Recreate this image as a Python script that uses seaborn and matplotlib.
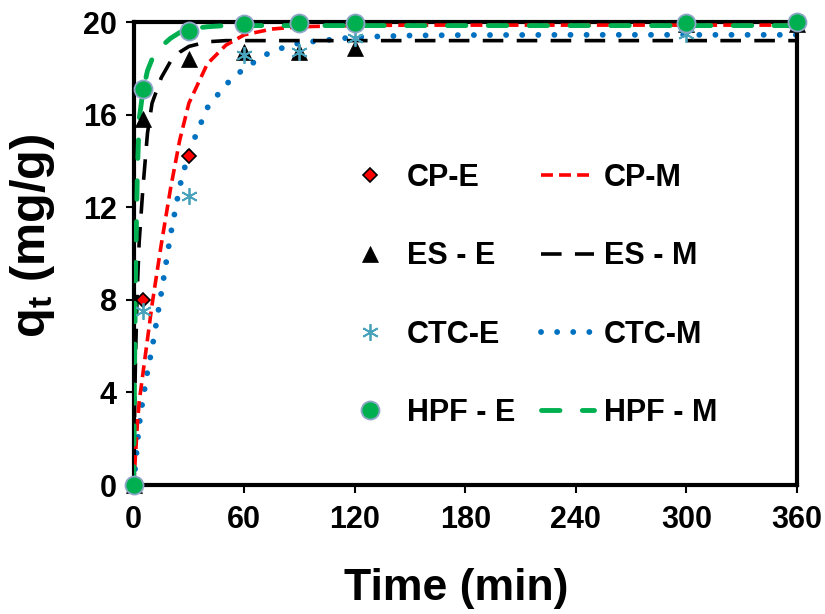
import matplotlib
matplotlib.use("Agg")
import matplotlib.pyplot as plt
import seaborn as sns
import numpy as np

t_exp = [0, 5, 30, 60, 90, 120, 300, 360]
cp_e = [0, 8.0, 14.2, 19.9, 19.9, 19.9, 19.9, 19.9]
es_e = [0, 15.8, 18.4, 18.7, 18.7, 18.9, 19.9, 19.9]
ctc_e = [0, 7.5, 12.5, 18.6, 18.7, 19.3, 19.5, 20.0]
hpf_e = [0, 17.1, 19.6, 19.9, 19.95, 19.95, 19.96, 20.0]

# ---- model curves ----
t_mod = [0, 0.5, 1, 2, 3, 5, 7.5, 10, 15, 20, 25, 30, 40, 50, 60, 75, 90, 120, 150, 180, 240, 300, 360]
cp_m = [0, 0.65, 1.3, 2.6, 3.6, 4.8, 6.3, 7.8, 10.4, 12.8, 14.9, 16.5, 18.2, 19.0, 19.45, 19.7, 19.8, 19.85,
        19.87, 19.87, 19.87, 19.87, 19.87]
es_m = [0, 3.0, 5.5, 8.5, 10.5, 12.8, 15.2, 16.5, 17.6, 18.3, 18.7, 18.95, 19.15, 19.2, 19.2, 19.2, 19.2, 19.2,
        19.2, 19.2, 19.2, 19.2, 19.2]
ctc_m = [0, 0.45, 0.9, 1.8, 2.6, 3.7, 4.9, 5.9, 8.3, 10.8, 12.9, 14.4, 16.3, 17.3, 18.0, 18.75, 19.1, 19.35,
         19.42, 19.44, 19.45, 19.45, 19.45]
hpf_m = [0, 5.0, 9.0, 13.5, 15.8, 17.0, 17.9, 18.4, 18.95, 19.3, 19.55, 19.7, 19.8, 19.85, 19.85, 19.85, 19.85,
         19.85, 19.85, 19.85, 19.85, 19.85, 19.85]

x_ticks = [0, 60, 120, 180, 240, 300, 360]
y_ticks = [0, 4, 8, 12, 16, 20]

sns.set_style("white")
plt.rcParams['font.family'] = ['Liberation Sans', 'DejaVu Sans']
plt.rcParams['font.weight'] = 'bold'
plt.rcParams['text.color'] = 'black'
plt.rcParams['axes.labelcolor'] = 'black'
plt.rcParams['xtick.color'] = 'black'
plt.rcParams['ytick.color'] = 'black'
plt.rcParams['mathtext.fontset'] = 'custom'
plt.rcParams['mathtext.rm'] = 'Liberation Sans:bold'
plt.rcParams['mathtext.it'] = 'Liberation Sans:bold'
plt.rcParams['mathtext.bf'] = 'Liberation Sans:bold'

fig = plt.figure(figsize=(8.25, 6.14), dpi=100)
ax = fig.add_axes([0.162, 0.21, 0.804, 0.754])

RED = '#FF0000'
BLUE = '#0070C0'
GREEN = '#00B050'
TEAL = '#4AA3BD'

# model lines
sns.lineplot(x=t_mod, y=ctc_m, ax=ax, color=BLUE, linewidth=4.2,
             linestyle=(0, (0.01, 2.75)), dash_capstyle='round', label='CTC-M', zorder=2)
sns.lineplot(x=t_mod, y=es_m, ax=ax, color='black', linewidth=2.6,
             linestyle=(0, (5.7, 3.7)), label='ES - M', zorder=2)
sns.lineplot(x=t_mod, y=cp_m, ax=ax, color=RED, linewidth=2.6,
             linestyle=(0, (3.3, 1.7)), label='CP-M', zorder=3)
sns.lineplot(x=t_mod, y=hpf_m, ax=ax, color=GREEN, linewidth=3.5,
             linestyle=(0, (3.8, 4.6)), dash_capstyle='round', label='HPF - M', zorder=3)

# experimental markers
sns.lineplot(x=t_exp, y=cp_e, ax=ax, color=RED, linestyle='', marker='D', markersize=7,
             markeredgecolor='black', markeredgewidth=1.2, label='CP-E', zorder=4, clip_on=False)
sns.lineplot(x=t_exp, y=es_e, ax=ax, color='black', linestyle='', marker='^', markersize=12,
             markeredgecolor='black', markeredgewidth=0.5, label='ES - E', zorder=4, clip_on=False)
sns.lineplot(x=t_exp, y=ctc_e, ax=ax, color=TEAL, linestyle='', marker=(6, 2, 0), markersize=12,
             markeredgecolor=TEAL, markeredgewidth=1.3, label='CTC-E', zorder=4, clip_on=False)
sns.lineplot(x=t_exp, y=hpf_e, ax=ax, color=GREEN, linestyle='', marker='o', markersize=13,
             markeredgecolor='#8FA6C8', markeredgewidth=1.3, label='HPF - E', zorder=5, clip_on=False)

ax.set_xlim(0, 360)
ax.set_ylim(0, 20)
ax.set_xticks(x_ticks)
ax.set_yticks(y_ticks)
ax.set_xticklabels([str(v) for v in x_ticks], fontsize=22, fontweight='bold')
ax.set_yticklabels([str(v) for v in y_ticks], fontsize=22, fontweight='bold')
ax.tick_params(axis='both', direction='out', length=6, width=1.5, color='black', pad=6)
ax.tick_params(axis='x', pad=8)
ax.xaxis.set_ticks_position('bottom')
ax.yaxis.set_ticks_position('left')
for s in ax.spines.values():
    s.set_visible(True)
    s.set_color('black')
    s.set_linewidth(3)

ax.set_xlabel('Time (min)', fontsize=32, fontweight='bold')
ax.xaxis.set_label_coords(0.487, -0.18)
ax.set_ylabel(r'q$_\mathrm{t}$ (mg/g)', fontsize=35, fontweight='bold')
ax.yaxis.set_label_coords(-0.115, 0.538)

handles, labels = ax.get_legend_handles_labels()
order = ['CP-E', 'ES - E', 'CTC-E', 'HPF - E', 'CP-M', 'ES - M', 'CTC-M', 'HPF - M']
hmap = dict(zip(labels, handles))
ax.legend([hmap[k] for k in order], order, ncol=2, frameon=False,
          loc='upper left', bbox_to_anchor=(344 / 825, 1 - 163 / 614), bbox_transform=fig.transFigure,
          borderpad=0, borderaxespad=0, handlelength=1.73, handletextpad=0.33, columnspacing=0.85,
          labelspacing=1.58, prop={'size': 22, 'weight': 'bold'})

fig.savefig('out.png', dpi=100)
